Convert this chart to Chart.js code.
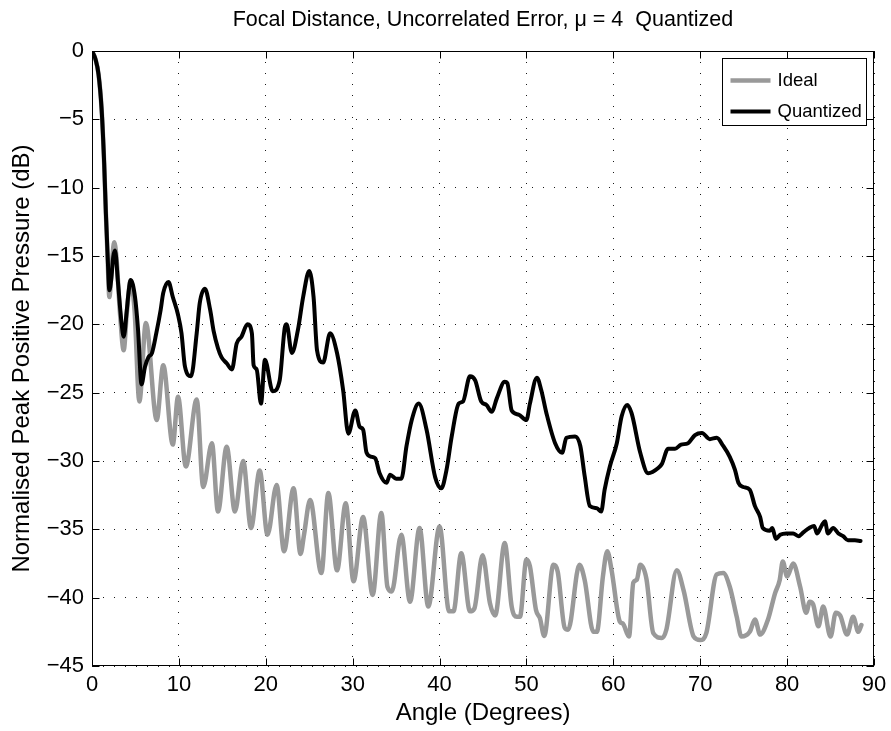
<!DOCTYPE html>
<html>
<head>
<meta charset="utf-8">
<title>Focal Distance, Uncorrelated Error</title>
<script src="https://cdn.jsdelivr.net/npm/chart.js@4.4.1/dist/chart.umd.min.js"></script>
<style>
  html, body { margin: 0; padding: 0; background: #ffffff; }
  #wrap { width: 891px; height: 731px; }
</style>
</head>
<body>
<div id="wrap"><canvas id="c" width="891" height="731"></canvas></div>
<script>
// Beam profile: normalised peak positive pressure vs. steering angle
const titleText = 'Focal Distance, Uncorrelated Error, \u03bc = 4  Quantized';
const xTitle = 'Angle (Degrees)';
const yTitle = 'Normalised Peak Positive Pressure (dB)';

const xTicks = [0, 10, 20, 30, 40, 50, 60, 70, 80, 90];
const yTicks = [0, -5, -10, -15, -20, -25, -30, -35, -40, -45];

const seriesNames = ['Ideal', 'Quantized'];

// Ideal array response
const idealAngle = [
  0.0, 0.4, 0.75, 1.1, 1.4, 1.6, 1.8, 2.0, 2.3, 2.55, 2.8, 3.2, 3.65, 4.0, 4.45, 4.9,
  5.45, 6.2, 7.45, 8.2, 9.3, 9.9, 10.8, 12.05, 12.8, 13.8, 14.5, 15.5, 16.45, 17.4,
  18.3, 19.3, 20.2, 21.25, 22.1, 23.2, 24.0, 24.4, 25.1, 26.4, 27.2, 28.2, 29.2, 30.1,
  31.2, 32.3, 33.3, 34.0, 34.5, 35.6, 36.6, 37.7, 38.7, 40.0, 41.1, 41.6, 42.5, 43.5,
  44.0, 44.95, 45.8, 46.4, 47.5, 48.3, 48.9, 49.25, 50.0, 50.4, 51.1, 51.55, 52.05,
  53.1, 53.6, 54.4, 54.8, 56.1, 56.7, 57.7, 58.1, 58.8, 59.3, 59.8, 60.75, 61.1, 61.8,
  62.3, 62.7, 63.1, 63.8, 64.6, 65.6, 66.1, 67.3, 68.1, 69.25, 70.0, 70.7, 71.9, 72.65,
  73.4, 74.2, 74.75, 75.7, 76.3, 76.9, 77.8, 78.6, 79.15, 79.5, 80.0, 80.7, 81.5, 82.2,
  82.6, 83.0, 83.6, 84.15, 85.0, 85.6, 86.1, 86.9, 87.6, 88.2, 88.55
];
const idealDb = [
  0.0, -0.6, -1.7, -4.2, -8.2, -11.9, -15.2, -18.0, -15.5, -14.0, -15.0, -19.0, -21.9, -19.2, -16.8, -19.0,
  -25.65, -19.9, -27.0, -23.0, -28.8, -25.3, -30.4, -25.5, -31.9, -28.7, -33.7, -28.95, -33.7, -30.0,
  -34.9, -30.7, -35.4, -31.75, -36.6, -32.0, -36.8, -35.4, -32.85, -38.2, -32.35, -38.0, -33.1, -38.8,
  -34.1, -39.8, -33.8, -39.2, -39.55, -35.4, -40.3, -34.9, -40.65, -34.8, -41.0, -41.0, -36.75, -41.0,
  -40.8, -36.9, -40.4, -41.3, -36.0, -40.65, -41.4, -41.4, -37.2, -37.7, -40.9, -41.5, -42.8,
  -37.6, -38.1, -42.2, -42.35, -37.6, -38.7, -42.5, -42.5, -38.45, -36.6, -38.0, -41.75, -41.9, -42.85,
  -38.9, -38.7, -37.6, -38.6, -42.6, -42.95, -42.35, -38.0, -39.5, -42.85, -43.1, -42.6, -38.3, -38.2,
  -39.2, -41.4, -42.85, -42.5, -41.6, -42.7, -41.6, -39.7, -38.7, -37.35, -38.45, -37.5, -39.2, -41.1,
  -40.3, -40.5, -42.1, -40.65, -42.85, -41.1, -41.3, -42.7, -41.4, -42.5, -42.0
];

// Quantized array response
const quantAngle = [
  0.0, 0.4, 0.75, 1.1, 1.4, 1.6, 1.8, 2.0, 2.2, 2.45, 2.65, 3.0, 3.4, 3.65, 4.0, 4.2, 4.45,
  4.95, 5.3, 5.7, 6.1, 6.5, 6.9, 7.4, 7.9, 8.2, 8.8, 9.3, 9.9, 10.3, 10.7, 11.4, 12.05,
  12.4, 13.0, 13.6, 14.0, 14.5, 14.9, 15.5, 16.1, 16.65, 17.2, 17.9, 18.4, 18.6, 18.95,
  19.45, 19.9, 20.8, 21.6, 22.2, 22.4, 23.0, 23.7, 24.3, 25.0, 25.5, 25.9, 26.6, 27.4,
  28.2, 28.9, 29.5, 30.3, 30.8, 31.2, 31.6, 32.2, 32.6, 33.1, 33.9, 34.3, 35.0, 35.6,
  36.2, 36.8, 37.6, 38.5, 39.5, 40.2, 40.8, 41.4, 42.2, 42.7, 43.5, 44.1, 44.8, 45.4,
  46.0, 46.6, 47.5, 47.8, 48.3, 49.1, 50.0, 50.4, 51.2, 51.7, 52.3, 53.3, 54.1, 54.6,
  55.6, 56.2, 56.7, 57.3, 58.1, 58.6, 59.0, 59.6, 60.4, 60.95, 61.6, 62.1, 63.1, 64.0,
  65.2, 65.6, 66.3, 67.1, 67.8, 68.6, 69.4, 70.2, 71.1, 71.9, 72.65, 73.4, 74.0, 74.4,
  74.95, 75.7, 76.3, 76.9, 77.2, 78.0, 78.3, 78.7, 79.2, 79.9, 80.7, 81.3, 81.9, 82.55,
  83.1, 83.45, 84.0, 84.35, 84.7, 85.3, 85.9, 86.45, 87.0, 87.8, 88.45
];
const quantDb = [
  0.0, -0.6, -1.7, -4.2, -8.2, -11.9, -15.0, -17.5, -16.8, -15.05, -14.6, -17.0, -19.9, -20.9, -19.0, -17.7, -16.75,
  -18.0, -20.4, -24.4, -23.1, -22.4, -22.1, -20.65, -18.95, -17.7, -16.9, -18.0, -19.3, -20.65, -23.1, -23.8, -20.65,
  -18.45, -17.4, -18.95, -20.5, -21.75, -22.4, -22.85, -23.3, -21.4, -20.9, -20.0, -20.65, -23.0, -23.3,
  -25.8, -22.6, -24.9, -24.1, -20.2, -20.0, -22.1, -20.4, -18.0, -16.1, -18.0, -21.9, -22.8, -20.65,
  -22.1, -24.8, -28.0, -26.3, -27.5, -27.7, -29.4, -29.7, -29.8, -30.9, -31.6, -31.0, -31.3, -31.3,
  -28.9, -27.0, -25.8, -27.7, -31.2, -32.0, -30.65, -28.2, -25.8, -25.65, -23.8, -24.1, -25.65, -25.9,
  -26.4, -25.4, -24.2, -24.3, -26.3, -26.6, -27.0, -25.8, -23.9, -24.8, -26.5, -28.7, -29.4, -28.3,
  -28.2, -28.9, -31.1, -33.3, -33.45, -33.7, -32.1, -30.4, -28.7, -26.75, -25.9, -26.5, -29.4, -30.9,
  -30.5, -30.2, -29.1, -29.1, -28.8, -28.7, -28.1, -27.95, -28.4, -28.3, -28.9, -29.7, -30.65, -31.6,
  -31.9, -32.1, -33.3, -34.1, -34.9, -35.1, -34.9, -35.7, -35.4, -35.3, -35.3, -35.5, -35.2, -34.9,
  -34.75, -35.3, -34.7, -34.4, -35.3, -34.9, -35.3, -35.5, -35.8, -35.8, -35.85
];

const FONT = '"Liberation Sans", Arial, Helvetica, sans-serif';
const toPoints = (xs, ys) => xs.map((v, i) => ({ x: v, y: ys[i] }));
const minus = v => (v < 0 ? '\u2212' + Math.abs(v) : String(v));

// Title, axes box with inward ticks, and the legend
const decor = {
  id: 'decor',
  afterDatasetsDraw(chart) {
    const { ctx, chartArea: a } = chart;
    const xs = chart.scales.x, ys = chart.scales.y;
    const L = Math.round(a.left) + 0.5, R = Math.round(a.right) - 0.5;
    const T = Math.round(a.top) + 0.5, B = Math.round(a.bottom) - 0.5;
    ctx.save();
    ctx.setLineDash([]);
    ctx.strokeStyle = '#000';
    ctx.lineWidth = 1;
    ctx.strokeRect(L, T, R - L, B - T);
    const tl = 7;
    ctx.beginPath();
    xTicks.forEach(v => {
      const p = Math.round(xs.getPixelForValue(v)) + 0.5;
      ctx.moveTo(p, B); ctx.lineTo(p, B - tl);
      ctx.moveTo(p, T); ctx.lineTo(p, T + tl);
    });
    yTicks.forEach(v => {
      const p = Math.round(ys.getPixelForValue(v)) + 0.5;
      ctx.moveTo(L, p); ctx.lineTo(L + tl, p);
      ctx.moveTo(R, p); ctx.lineTo(R - tl, p);
    });
    ctx.stroke();

    // title
    ctx.fillStyle = '#000';
    ctx.font = '21.5px ' + FONT;
    ctx.textAlign = 'center';
    ctx.textBaseline = 'middle';
    ctx.fillText(titleText, (a.left + a.right) / 2, 20);

    // legend
    ctx.font = '18.5px ' + FONT;
    ctx.textAlign = 'left';
    const ds = chart.data.datasets;
    const order = [1, 0];
    const tw = Math.max(...order.map(i => ctx.measureText(ds[i].label).width));
    const pad = 8, lineLen = 40, gap = 7, rowH = 31;
    const bw = Math.round(pad + lineLen + gap + tw + 5);
    const bh = 67;
    const bx = Math.round(a.right - 8 - bw) + 0.5;
    const by = Math.round(a.top + 7) + 0.5;
    ctx.fillStyle = '#fff';
    ctx.fillRect(bx, by, bw, bh);
    ctx.strokeStyle = '#000';
    ctx.lineWidth = 1;
    ctx.strokeRect(bx, by, bw, bh);
    order.forEach((i, k) => {
      const cy = by + 22 + k * rowH;
      ctx.strokeStyle = ds[i].borderColor;
      ctx.lineWidth = ds[i].borderWidth;
      ctx.lineCap = 'butt';
      ctx.beginPath();
      ctx.moveTo(bx + pad, cy);
      ctx.lineTo(bx + pad + lineLen, cy);
      ctx.stroke();
      ctx.fillStyle = '#000';
      ctx.fillText(ds[i].label, bx + pad + lineLen + gap, cy);
    });
    ctx.restore();
  }
};

new Chart(document.getElementById('c'), {
  type: 'line',
  data: {
    datasets: [
      {
        label: seriesNames[1],
        data: toPoints(quantAngle, quantDb),
        borderColor: '#000000',
        borderWidth: 4,
        order: 1
      },
      {
        label: seriesNames[0],
        data: toPoints(idealAngle, idealDb),
        borderColor: '#999999',
        borderWidth: 4.5,
        order: 2
      }
    ]
  },
  options: {
    responsive: false,
    animation: false,
    devicePixelRatio: 1,
    layout: { padding: { top: 51, right: 17, bottom: 0, left: 0 } },
    elements: {
      point: { radius: 0, hoverRadius: 0 },
      line: { cubicInterpolationMode: 'monotone', borderJoinStyle: 'round', borderCapStyle: 'round', fill: false }
    },
    plugins: {
      legend: { display: false },
      title: { display: false },
      tooltip: { enabled: false }
    },
    scales: {
      x: {
        type: 'linear',
        min: 0, max: 90,
        afterBuildTicks: s => { s.ticks = xTicks.map(v => ({ value: v })); },
        afterFit: s => { s.height = 65; s.paddingLeft = 0; s.paddingRight = 0; },
        ticks: {
          color: '#000', padding: 6, maxRotation: 0, autoSkip: false,
          font: { family: FONT, size: 22 },
          callback: v => minus(v)
        },
        grid: { color: 'rgba(0,0,0,0.9)', lineWidth: 1, drawTicks: false },
        border: { display: false, dash: [1, 10] },
        title: { display: true, text: xTitle, color: '#000', font: { family: FONT, size: 24 }, padding: { top: 0, bottom: 3.6 } }
      },
      y: {
        type: 'linear',
        min: -45, max: 0,
        afterBuildTicks: s => { s.ticks = yTicks.map(v => ({ value: v })); },
        afterFit: s => { s.width = 92; s.paddingTop = 0; s.paddingBottom = 0; },
        ticks: {
          color: '#000', padding: 8, autoSkip: false,
          font: { family: FONT, size: 22 },
          callback: v => minus(v)
        },
        grid: { color: 'rgba(0,0,0,0.9)', lineWidth: 1, drawTicks: false },
        border: { display: false, dash: [1, 10] },
        title: { display: true, text: yTitle, color: '#000', font: { family: FONT, size: 24 }, padding: { top: 7.6, bottom: 0 } }
      }
    }
  },
  plugins: [decor]
});
</script>
</body>
</html>
